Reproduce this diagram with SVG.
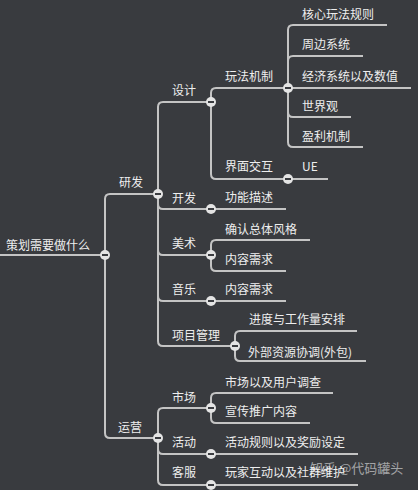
<svg xmlns="http://www.w3.org/2000/svg" xmlns:xlink="http://www.w3.org/1999/xlink" width="418" height="490" viewBox="0 0 418 490">
<style>
text{font-family:"Noto Sans CJK SC","Liberation Sans",sans-serif;font-size:12px;fill:#eeeeee}
.ln{fill:none;stroke:#c4c4c4;stroke-width:2}
.wm{font-size:13px;fill:#ffffff;fill-opacity:0.55}
</style>
<defs>
<g id="tg"><circle r="5" fill="#e4e4e4"/><rect x="-3" y="-1" width="6" height="2" fill="#3a3c40"/></g>
</defs>
<rect width="418" height="490" fill="#393b3f"/>
<g id="connectors" class="ln">
<path d="M0,255H105"/>
<path d="M105,199Q105,194 110,194H158M105,199V433Q105,438 110,438H158"/>
<path d="M158,107Q158,102 163,102H211M158,107V341Q158,346 163,346H235M158,204Q158,209 163,209H211M158,250Q158,255 163,255H211M158,296Q158,301 163,301H211"/>
<path d="M211,93Q211,88 216,88H288M211,93V174Q211,179 216,179H288"/>
<path d="M288,30Q288,25 293,25H387M288,30V142Q288,147 293,147H363M288,61Q288,56 293,56H363M288,88H411M288,112Q288,117 293,117H351"/>
<path d="M288,179H328"/>
<path d="M211,209H286"/>
<path d="M211,245Q211,240 216,240H310M211,245V266Q211,271 216,271H286"/>
<path d="M211,301H286"/>
<path d="M235,336Q235,331 240,331H357M235,336V356Q235,361 240,361H366"/>
<path d="M158,413Q158,408 163,408H211M158,413V480Q158,485 163,485H211M158,449Q158,454 163,454H211"/>
<path d="M211,398Q211,393 216,393H333M211,398V418Q211,423 216,423H310"/>
<path d="M211,454H358"/>
<path d="M211,485H358"/>
</g>
<g id="root"><text x="6" y="249.5">策划需要做什么</text><use href="#tg" x="105" y="255"/></g>
<g id="yanfa"><text x="119" y="186.5">研发</text><use href="#tg" x="158" y="194"/></g>
<g id="sheji"><text x="172" y="95">设计</text><use href="#tg" x="211" y="102"/></g>
<g id="wanfa"><text x="225" y="80.5">玩法机制</text><use href="#tg" x="288" y="88"/></g>
<g id="hexin"><text x="302" y="18.5">核心玩法规则</text></g>
<g id="zhoubian"><text x="302" y="48.5">周边系统</text></g>
<g id="jingji"><text x="302" y="80.5">经济系统以及数值</text></g>
<g id="shijie"><text x="302" y="110.5">世界观</text></g>
<g id="yingli"><text x="302" y="140.5">盈利机制</text></g>
<g id="jiemian"><text x="225" y="170.5">界面交互</text><use href="#tg" x="288" y="179"/></g>
<g id="ue"><text x="302" y="170.5">UE</text></g>
<g id="kaifa"><text x="172" y="202.5">开发</text><use href="#tg" x="211" y="209"/></g>
<g id="gongneng"><text x="225" y="201.5">功能描述</text></g>
<g id="meishu"><text x="172" y="247.5">美术</text><use href="#tg" x="211" y="255"/></g>
<g id="queren"><text x="225" y="233.5">确认总体风格</text></g>
<g id="neirong1"><text x="225" y="263.5">内容需求</text></g>
<g id="yinyue"><text x="172" y="293.5">音乐</text><use href="#tg" x="211" y="301"/></g>
<g id="neirong2"><text x="225" y="293.5">内容需求</text></g>
<g id="xiangmu"><text x="172" y="339.5">项目管理</text><use href="#tg" x="235" y="346"/></g>
<g id="jindu"><text x="249" y="323.5">进度与工作量安排</text></g>
<g id="waibu"><text x="248" y="356.5">外部资源协调(外包)</text></g>
<g id="yunying"><text x="118" y="431.5">运营</text><use href="#tg" x="158" y="438"/></g>
<g id="shichang"><text x="172" y="401.5">市场</text><use href="#tg" x="211" y="408"/></g>
<g id="diaocha"><text x="225" y="386.5">市场以及用户调查</text></g>
<g id="xuanchuan"><text x="225" y="415.5">宣传推广内容</text></g>
<g id="huodong"><text x="172" y="446.5">活动</text><use href="#tg" x="211" y="454"/></g>
<g id="guize"><text x="225" y="446.5">活动规则以及奖励设定</text></g>
<g id="kefu"><text x="172" y="476.5">客服</text><use href="#tg" x="211" y="485"/></g>
<g id="hudong"><text x="225" y="476.5">玩家互动以及社群维护</text></g>
<text class="wm" x="310" y="472.5">知乎 @代码罐头</text>
</svg>
